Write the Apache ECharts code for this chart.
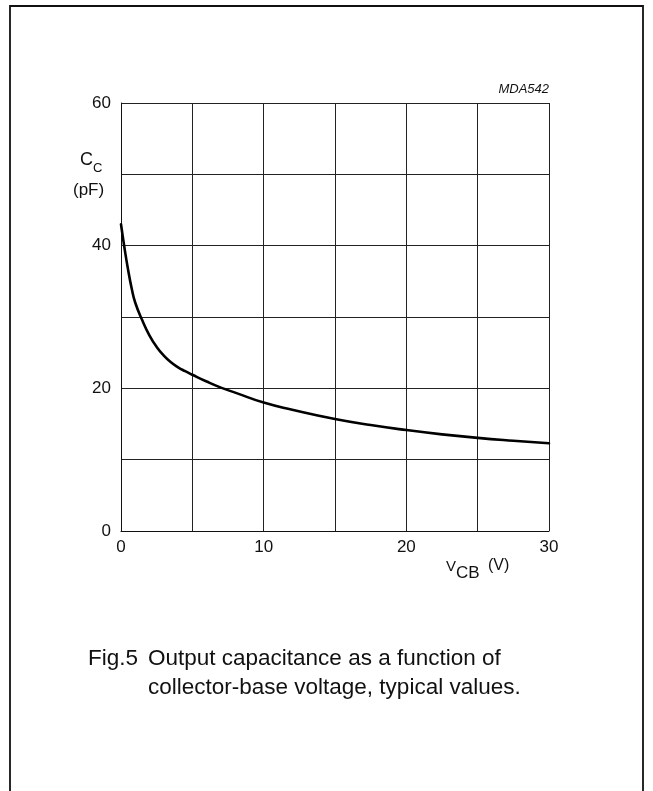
<!DOCTYPE html>
<html>
<head>
<meta charset="utf-8">
<script src="https://cdn.jsdelivr.net/npm/echarts@6/dist/echarts.min.js"></script>
<style>
html,body{margin:0;padding:0;background:#fff;}
#c{width:653px;height:791px;}
</style>
</head>
<body>
<div id="c"></div>
<script>
// Data (VCB in volts, Cc in pF)
var vcb = [0, 0.25, 0.5, 0.75, 1, 1.5, 2, 2.5, 3, 3.5, 4, 4.5, 5, 6, 7, 8, 10, 12, 15, 17.5, 20, 22.5, 25, 27.5, 30];
var cc  = [43, 39.6, 36.6, 34.0, 32.0, 29.5, 27.4, 25.8, 24.6, 23.65, 22.95, 22.4, 21.9, 20.95, 20.1, 19.4, 18.0, 17.0, 15.7, 14.85, 14.15, 13.55, 13.05, 12.65, 12.3];
var xTickLabels = ['0', '10', '20', '30'];
var yTickLabels = ['0', '20', '40', '60'];

var pts = vcb.map(function (v, i) { return [v, cc[i]]; });
var font = 'Liberation Sans, Arial, Helvetica, sans-serif';

var chart = echarts.init(document.getElementById('c'), null, {renderer: 'canvas'});
chart.setOption({
  animation: false,
  backgroundColor: '#fff',
  grid: {left: 121, top: 103, width: 428, height: 428, containLabel: false},
  xAxis: {
    type: 'value', min: 0, max: 30, interval: 5,
    axisLine: {show: true, lineStyle: {color: '#111', width: 1}},
    axisTick: {show: false},
    splitLine: {show: true, lineStyle: {color: '#222', width: 1}},
    axisLabel: {
      color: '#111', fontSize: 17, fontFamily: font, margin: 8,
      formatter: function (v) { return xTickLabels.indexOf(String(v)) >= 0 ? String(v) : ''; }
    }
  },
  yAxis: {
    type: 'value', min: 0, max: 60, interval: 10,
    axisLine: {show: true, lineStyle: {color: '#111', width: 1}},
    axisTick: {show: false},
    splitLine: {show: true, lineStyle: {color: '#222', width: 1}},
    axisLabel: {
      color: '#111', fontSize: 17, fontFamily: font, margin: 10,
      formatter: function (v) { return yTickLabels.indexOf(String(v)) >= 0 ? String(v) : ''; }
    }
  },
  series: [{
    type: 'line', data: pts, smooth: 0.5, showSymbol: false,
    lineStyle: {color: '#000', width: 2.6, cap: 'round', join: 'round'}, z: 5
  }],
  graphic: [
    {type: 'rect', shape: {x: 10, y: 6, width: 633, height: 800}, style: {fill: 'none', stroke: '#111', lineWidth: 1.8}, silent: true},
    {type: 'text', x: 549, y: 83, style: {text: 'MDA542', font: 'italic 13px ' + font, fill: '#111', textAlign: 'right'}},
    {type: 'text', x: 80, y: 151, style: {text: 'C', font: '18px ' + font, fill: '#111'}},
    {type: 'text', x: 93, y: 162, style: {text: 'C', font: '13px ' + font, fill: '#111'}},
    {type: 'text', x: 73, y: 182, style: {text: '(pF)', font: '17px ' + font, fill: '#111'}},
    {type: 'text', x: 446, y: 559, style: {text: 'V', font: '15px ' + font, fill: '#111'}},
    {type: 'text', x: 456, y: 565, style: {text: 'CB', font: '17px ' + font, fill: '#111'}},
    {type: 'text', x: 488, y: 558, style: {text: '(V)', font: '16px ' + font, fill: '#111'}},
    {type: 'text', x: 88, y: 647, style: {text: 'Fig.5', font: '22.5px ' + font, fill: '#111'}},
    {type: 'text', x: 148, y: 647, style: {text: 'Output capacitance as a function of', font: '22.5px ' + font, fill: '#111'}},
    {type: 'text', x: 148, y: 676, style: {text: 'collector-base voltage, typical values.', font: '22.5px ' + font, fill: '#111'}}
  ]
});
</script>
</body>
</html>
